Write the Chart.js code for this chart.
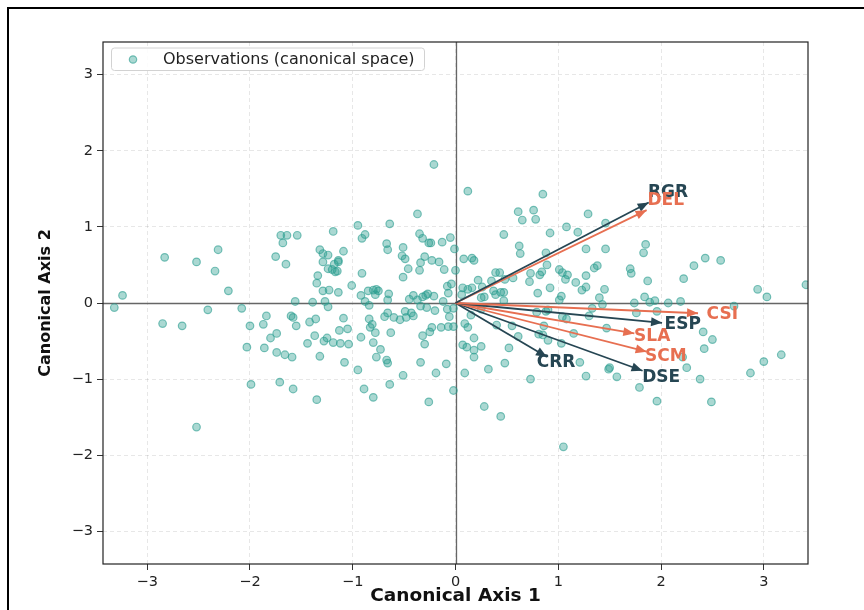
<!DOCTYPE html>
<html>
<head>
<meta charset="utf-8">
<script src="https://cdn.jsdelivr.net/npm/chart.js@4.4.1/dist/chart.umd.min.js"></script>
<style>
    html, body { margin: 0; padding: 0; background: #fff; overflow: hidden; }
    #wrap { position: relative; width: 864px; height: 610px; }
    #frame { position: absolute; left: 7px; top: 7px; width: 900px; height: 700px; border: 2px solid #000; box-sizing: border-box; pointer-events: none; }
</style>
</head>
<body>
<div id="wrap">
    <canvas id="chart" width="864" height="610"></canvas>
    <div id="frame"></div>
</div>
<script>
// observations in canonical space [axis1, axis2]
const obsPoints = [
    [-3.24, 0.10], [-3.32, -0.06], [-2.83, 0.60], [-2.52, 0.54], [-2.31, 0.70], [-2.34, 0.42], [-2.21, 0.16],
    [-2.41, -0.09], [-2.08, -0.07], [-2.85, -0.27], [-2.66, -0.30], [-2.52, -1.63], [-1.99, -1.07], [-1.71, -1.04],
    [-1.58, -1.13], [-2.03, -0.58], [-2.00, -0.30], [-1.86, -0.59], [-1.87, -0.28], [-1.84, -0.17], [-1.80, -0.46],
    [-1.74, -0.40], [-1.74, -0.65], [-1.66, -0.68], [-1.59, -0.71], [-1.60, -0.17], [-1.58, -0.19], [-1.55, -0.30],
    [-1.56, 0.02], [-1.75, 0.61], [-1.65, 0.51], [-1.70, 0.89], [-1.64, 0.89], [-1.54, 0.89], [-1.68, 0.79],
    [-0.37, 1.17], [-0.64, 1.04], [-0.95, 1.02], [-1.19, 0.94], [-0.88, 0.90], [-0.91, 0.85], [-0.35, 0.91],
    [-0.32, 0.85], [-0.26, 0.79], [-0.24, 0.79], [-0.13, 0.80], [-0.05, 0.86], [-0.01, 0.71], [-0.67, 0.78],
    [-0.66, 0.70], [-0.51, 0.73], [-0.52, 0.62], [-0.49, 0.58], [-0.30, 0.61], [-0.23, 0.56], [-0.16, 0.54],
    [-0.34, 0.53], [-0.46, 0.45], [-0.35, 0.43], [-0.11, 0.44], [0.00, 0.43], [-0.51, 0.34], [-0.91, 0.39],
    [-1.32, 0.70], [-1.29, 0.65], [-1.24, 0.63], [-1.09, 0.68], [-1.29, 0.54], [-1.18, 0.51], [-1.14, 0.56],
    [-1.14, 0.54], [-1.24, 0.45], [-1.20, 0.44], [-1.17, 0.41], [-1.15, 0.42], [-1.34, 0.36], [-1.35, 0.26],
    [-1.29, 0.16], [-1.23, 0.17], [-1.14, 0.14], [-1.01, 0.23], [-0.92, 0.10], [-0.85, 0.16], [-0.80, 0.17],
    [-0.77, 0.18], [-0.75, 0.16], [-0.78, 0.11], [-0.65, 0.12], [-0.66, 0.04], [-1.39, 0.01], [-1.27, 0.02],
    [-1.24, -0.05], [-0.88, 0.02], [-0.84, -0.03], [-0.45, 0.05], [-0.41, 0.10], [-0.37, 0.04], [-0.32, 0.08],
    [-0.29, 0.10], [-0.27, 0.12], [-0.21, 0.09], [-0.34, -0.04], [-0.28, -0.06], [-0.12, 0.02], [-0.07, 0.13],
    [-0.08, 0.22], [-0.04, 0.25], [-0.08, -0.08], [-0.02, -0.07], [-0.20, -0.10], [-0.06, -0.18], [-1.42, -0.25],
    [-1.36, -0.21], [-1.09, -0.20], [-1.13, -0.36], [-1.05, -0.34], [-1.37, -0.43], [-1.44, -0.53], [-1.28, -0.50],
    [-1.25, -0.46], [-1.19, -0.52], [-1.12, -0.53], [-1.04, -0.54], [-0.92, -0.45], [-0.84, -0.21], [-0.81, -0.28],
    [-0.83, -0.32], [-0.78, -0.39], [-0.69, -0.18], [-0.66, -0.13], [-0.60, -0.19], [-0.54, -0.22], [-0.49, -0.11],
    [-0.48, -0.19], [-0.43, -0.13], [-0.41, -0.17], [-0.63, -0.39], [-0.80, -0.52], [-0.73, -0.61], [-0.77, -0.71],
    [-0.67, -0.75], [-0.66, -0.79], [-0.95, -0.88], [-1.08, -0.78], [-1.32, -0.70], [-1.35, -1.27], [-0.89, -1.13],
    [-0.80, -1.24], [-0.64, -1.07], [-0.51, -0.95], [-0.32, -0.43], [-0.30, -0.54], [-0.25, -0.38], [-0.23, -0.32],
    [-0.14, -0.32], [-0.07, -0.31], [-0.02, -0.31], [-0.34, -0.78], [-0.09, -0.80], [-0.19, -0.92], [-0.02, -1.15],
    [-0.26, -1.30], [-0.21, 1.82],
    [0.12, 1.47], [0.85, 1.43], [0.61, 1.20], [0.76, 1.22], [0.65, 1.09], [0.78, 1.10], [1.29, 1.17],
    [1.08, 1.00], [1.19, 0.93], [1.46, 1.05], [0.92, 0.92], [0.47, 0.90], [0.62, 0.75], [0.63, 0.65],
    [0.88, 0.66], [1.27, 0.71], [1.46, 0.71], [0.08, 0.58], [0.16, 0.59], [0.18, 0.56], [0.39, 0.40],
    [0.43, 0.40], [0.48, 0.31], [0.56, 0.33], [0.73, 0.39], [0.82, 0.37], [0.84, 0.41], [0.89, 0.50],
    [1.01, 0.44], [1.04, 0.40], [1.09, 0.37], [1.07, 0.31], [1.17, 0.27], [1.27, 0.36], [1.35, 0.46],
    [1.38, 0.49], [1.23, 0.17], [1.27, 0.21], [1.45, 0.18], [1.40, 0.07], [1.43, -0.02], [0.72, 0.28],
    [0.92, 0.20], [0.80, 0.13], [1.01, 0.04], [1.03, 0.09], [0.22, 0.30], [0.35, 0.29], [0.07, 0.20],
    [0.12, 0.18], [0.16, 0.20], [0.06, 0.11], [0.26, 0.21], [0.25, 0.07], [0.28, 0.08], [0.37, 0.16],
    [0.39, 0.11], [0.44, 0.14], [0.47, 0.14], [0.47, 0.03],
    [0.15, -0.16], [0.25, -0.08], [0.09, -0.27], [0.12, -0.32], [0.18, -0.46], [0.07, -0.55], [0.11, -0.58],
    [0.18, -0.62], [0.25, -0.57], [0.18, -0.71], [0.09, -0.92], [0.32, -0.87], [0.48, -0.79], [0.52, -0.59],
    [0.40, -0.29], [0.55, -0.30], [0.61, -0.44], [0.79, -0.12], [0.88, -0.11], [0.90, -0.09], [1.04, -0.18],
    [1.08, -0.21], [0.81, -0.41], [0.85, -0.42], [0.90, -0.49], [0.86, -0.30], [1.03, -0.53], [1.15, -0.40],
    [1.30, -0.17], [1.33, -0.07], [1.47, -0.33], [0.73, -1.00], [1.21, -0.78], [1.27, -0.96], [1.49, -0.87],
    [1.50, -0.85], [1.57, -0.97], [0.28, -1.36], [0.44, -1.49],
    [1.79, -1.11], [1.96, -1.29], [2.25, -0.85], [2.38, -1.00], [2.49, -1.30], [2.87, -0.92], [3.00, -0.77],
    [1.05, -1.89], [1.85, 0.77], [1.83, 0.66], [1.70, 0.45], [1.71, 0.39], [1.87, 0.29], [1.84, 0.08],
    [1.89, 0.01], [1.94, 0.03], [1.74, 0.00], [1.76, -0.13], [1.96, -0.11], [2.07, 0.00], [2.19, 0.02],
    [2.22, 0.32], [2.32, 0.49], [2.43, 0.59], [2.58, 0.56], [2.71, -0.04], [2.94, 0.18], [3.03, 0.08],
    [3.41, 0.24], [2.41, -0.38], [2.50, -0.48], [2.42, -0.60], [2.21, -0.71], [3.17, -0.68]
];

// variable loadings (arrow tips)
const arrowNames = ['RGR', 'DEL', 'CSI', 'ESP', 'SLA', 'SCM', 'DSE', 'CRR'];
const arrowX = [1.88, 1.86, 2.36, 2.01, 1.74, 1.86, 1.82, 0.89];
const arrowY = [1.32, 1.22, -0.135, -0.26, -0.40, -0.64, -0.89, -0.71];
const arrowGroup = ['dark', 'orange', 'orange', 'dark', 'orange', 'orange', 'dark', 'dark'];

const tickValues = [-3, -2, -1, 0, 1, 2, 3];
const axisLimit = 3.43;

const COLORS = {dark: '#264653', orange: '#e76f51', obs: '#2a9d8f'};
const FONT = '"DejaVu Sans", sans-serif';

function fmtTick(v) {
    return String(v).replace('-', '\u2212');
}

const canvasPlugin = {
    id: 'biplotExtras',
    beforeDatasetsDraw(chart) {
        const {ctx, chartArea: a, scales: {x, y}} = chart;
        ctx.save();
        ctx.strokeStyle = '#666';
        ctx.lineWidth = 1.3;
        const x0 = Math.round(x.getPixelForValue(0)) + 0.5;
        const y0 = Math.round(y.getPixelForValue(0)) + 0.5;
        ctx.beginPath();
        ctx.moveTo(a.left, y0);
        ctx.lineTo(a.right, y0);
        ctx.moveTo(x0, a.top);
        ctx.lineTo(x0, a.bottom);
        ctx.stroke();
        ctx.restore();
    },
    afterDatasetsDraw(chart) {
        const {ctx, chartArea: a, scales: {x, y}} = chart;
        ctx.save();
        // arrow heads + labels
        arrowNames.forEach((name, i) => {
            const col = COLORS[arrowGroup[i]];
            const ox = x.getPixelForValue(0), oy = y.getPixelForValue(0);
            const tx = x.getPixelForValue(arrowX[i]), ty = y.getPixelForValue(arrowY[i]);
            const ang = Math.atan2(ty - oy, tx - ox);
            const len = 11, half = 4.5;
            ctx.fillStyle = col;
            ctx.beginPath();
            ctx.moveTo(tx, ty);
            ctx.lineTo(tx - len * Math.cos(ang) + half * Math.sin(ang), ty - len * Math.sin(ang) - half * Math.cos(ang));
            ctx.lineTo(tx - len * Math.cos(ang) - half * Math.sin(ang), ty - len * Math.sin(ang) + half * Math.cos(ang));
            ctx.closePath();
            ctx.fill();

            ctx.font = `bold 17px ${FONT}`;
            ctx.textAlign = 'center';
            ctx.textBaseline = 'middle';
            ctx.fillText(name, x.getPixelForValue(arrowX[i] * 1.1), y.getPixelForValue(arrowY[i] * 1.1));
        });

        // legend box
        const lx = 111.5, ly = 48, lw = 313, lh = 22.5;
        ctx.fillStyle = 'rgba(255,255,255,0.85)';
        ctx.strokeStyle = '#d2d2d2';
        ctx.lineWidth = 1;
        ctx.beginPath();
        ctx.roundRect(lx, ly, lw, lh, 3);
        ctx.fill();
        ctx.stroke();
        ctx.fillStyle = 'rgba(42,157,143,0.4)';
        ctx.strokeStyle = 'rgba(42,157,143,0.6)';
        ctx.lineWidth = 1.2;
        ctx.beginPath();
        ctx.arc(133, 59.5, 3.7, 0, Math.PI * 2);
        ctx.fill();
        ctx.stroke();
        ctx.fillStyle = '#222';
        ctx.font = `16px ${FONT}`;
        ctx.textAlign = 'left';
        ctx.textBaseline = 'middle';
        ctx.fillText(chart.data.datasets[0].label, 163, 59.5);

        // axes frame
        ctx.strokeStyle = '#222';
        ctx.lineWidth = 1.2;
        ctx.strokeRect(a.left, a.top, a.right - a.left, a.bottom - a.top);
        ctx.restore();
    }
};

const arrowSets = arrowNames.map((name, i) => ({
    type: 'line',
    label: name,
    data: [{x: 0, y: 0}, {x: arrowX[i], y: arrowY[i]}],
    borderColor: COLORS[arrowGroup[i]],
    borderWidth: 1.8,
    pointRadius: 0,
    fill: false,
    order: 1
}));

function axisOpts(title, isX) {
    return {
        type: 'linear',
        min: -axisLimit,
        max: axisLimit,
        afterFit(s) {
            if (isX) s.height = 46; else s.width = 67;
        },
        afterBuildTicks(s) {
            s.ticks = tickValues.map(v => ({value: v}));
        },
        ticks: {
            stepSize: 1,
            includeBounds: false,
            padding: 4,
            color: '#222',
            font: {family: FONT, size: 14.5},
            callback: v => fmtTick(v)
        },
        grid: {
            color: 'rgba(0,0,0,0.12)',
            lineWidth: 0.8,
            tickLength: 6,
            tickColor: '#333',
            tickWidth: 1
        },
        border: {display: false, dash: [4, 3]},
        title: {
            display: true,
            text: title,
            color: '#111',
            font: {family: FONT, size: isX ? 18.5 : 16, weight: 'bold'},
            padding: isX ? {top: 0, bottom: 3} : {top: 0, bottom: 4}
        }
    };
}

new Chart(document.getElementById('chart'), {
    type: 'scatter',
    data: {
        datasets: [{
            type: 'scatter',
            label: 'Observations (canonical space)',
            data: obsPoints.map(p => ({x: p[0], y: p[1]})),
            backgroundColor: 'rgba(42,157,143,0.4)',
            borderColor: 'rgba(42,157,143,0.6)',
            borderWidth: 1.2,
            pointRadius: 3.8,
            order: 3
        }, ...arrowSets]
    },
    options: {
        responsive: false,
        animation: false,
        devicePixelRatio: 1,
        layout: {padding: {left: 36, right: 56, top: 42, bottom: 0}},
        plugins: {legend: {display: false}, tooltip: {enabled: false}},
        scales: {
            x: axisOpts('Canonical Axis 1', true),
            y: axisOpts('Canonical Axis 2', false)
        }
    },
    plugins: [canvasPlugin]
});
</script>
</body>
</html>
